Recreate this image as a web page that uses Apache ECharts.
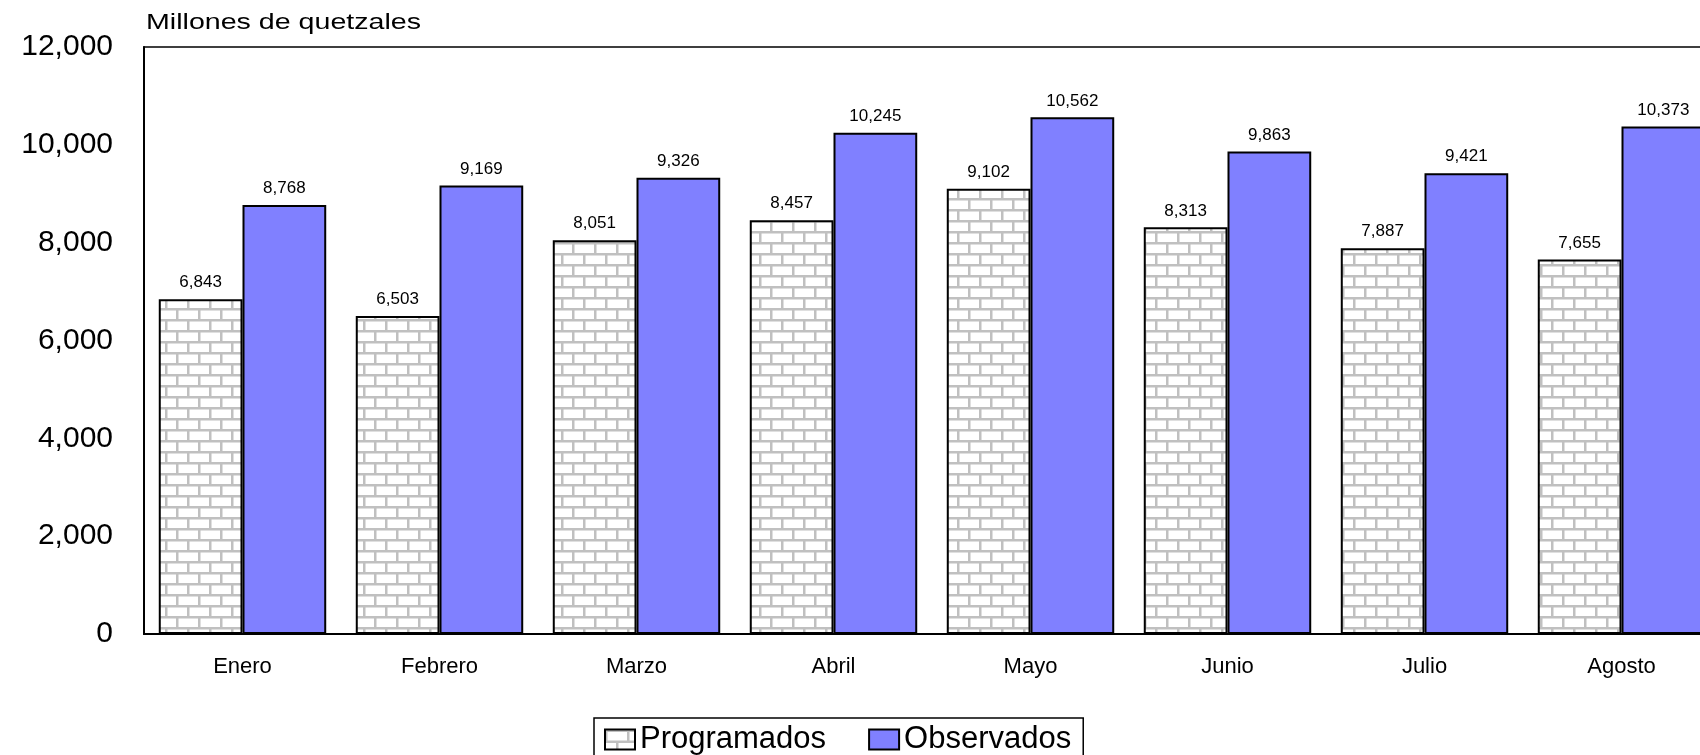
<!DOCTYPE html>
<html>
<head>
<meta charset="utf-8">
<script src="https://cdn.jsdelivr.net/npm/echarts@6/dist/echarts.min.js"></script>
<style>
  html, body { margin: 0; padding: 0; background: #fff; }
  #chart { width: 1700px; height: 755px; }
</style>
</head>
<body>
<div id="chart"></div>
<script>
// Monthly figures, millions of quetzales
const months = ['Enero', 'Febrero', 'Marzo', 'Abril', 'Mayo', 'Junio', 'Julio', 'Agosto'];
const programados = [6843, 6503, 8051, 8457, 9102, 8313, 7887, 7655];
const observados = [8768, 9169, 9326, 10245, 10562, 9863, 9421, 10373];
const yTicks = { min: 0, max: 12000, interval: 2000 };
const unitLabel = 'Millones de quetzales';

const FONT = '"Liberation Sans", Arial, sans-serif';

// Brick texture for the "Programados" series
function brickPattern() {
  const c = document.createElement('canvas');
  const w = 44, h = 44, t = 5;
  c.width = w; c.height = h;
  const g = c.getContext('2d');
  g.fillStyle = '#ffffff';
  g.fillRect(0, 0, w, h);
  g.fillStyle = '#c0c0c0';
  g.fillRect(0, 0, w, t);             // mortar row 1
  g.fillRect(0, h / 2, w, t);         // mortar row 2
  g.fillRect(0, 0, t, h / 2);         // joint row 1
  g.fillRect(w / 2, h / 2, t, h / 2); // joint row 2 (offset)
  return c;
}

const fmt = v => Number(v).toLocaleString('en-US');

const chart = echarts.init(document.getElementById('chart'), null, { renderer: 'canvas' });

chart.setOption({
  animation: false,
  backgroundColor: '#ffffff',
  textStyle: { fontFamily: FONT, color: '#000' },
  grid: {
    left: 144, top: 47, width: 1576, height: 587,
    outerBoundsMode: 'none', containLabel: false,
    show: true, borderColor: '#000', borderWidth: 1.5, backgroundColor: 'transparent'
  },
  graphic: [{
    type: 'text',
    left: 146, top: 12,
    style: { text: unitLabel, font: '22px ' + FONT, fill: '#000' },
    scaleX: 1.3, originX: 0
  }],
  legend: {
    left: 594, top: 718,
    padding: [6, 12, 8, 10],
    borderColor: '#000', borderWidth: 1.5,
    icon: 'rect',
    itemWidth: 30, itemHeight: 20, itemGap: 42,
    textStyle: { fontFamily: FONT, fontSize: 31, color: '#000' },
    data: ['Programados', 'Observados']
  },
  xAxis: {
    type: 'category',
    data: months,
    axisLine: { lineStyle: { color: '#000', width: 2 } },
    axisTick: { show: false },
    axisLabel: { fontFamily: FONT, fontSize: 22, color: '#000', margin: 22 }
  },
  yAxis: {
    type: 'value',
    min: yTicks.min, max: yTicks.max, interval: yTicks.interval,
    splitLine: { show: false },
    axisLine: { show: true, lineStyle: { color: '#000', width: 2 } },
    axisTick: { show: false },
    axisLabel: { fontFamily: FONT, fontSize: 30, color: '#000', margin: 31, formatter: fmt }
  },
  series: [
    {
      name: 'Programados',
      type: 'bar',
      data: programados,
      barGap: '0%',
      barCategoryGap: '15%',
      itemStyle: { color: { image: brickPattern(), repeat: 'repeat', scaleX: 0.5, scaleY: 0.5 }, borderColor: '#000', borderWidth: 2 },
      label: { show: true, position: 'top', distance: 8, fontFamily: FONT, fontSize: 17, color: '#000', formatter: p => fmt(p.value) }
    },
    {
      name: 'Observados',
      type: 'bar',
      data: observados,
      barGap: '0%',
      barCategoryGap: '15%',
      itemStyle: { color: '#8080ff', borderColor: '#000', borderWidth: 2 },
      label: { show: true, position: 'top', distance: 8, fontFamily: FONT, fontSize: 17, color: '#000', formatter: p => fmt(p.value) }
    }
  ]
});
</script>
</body>
</html>
